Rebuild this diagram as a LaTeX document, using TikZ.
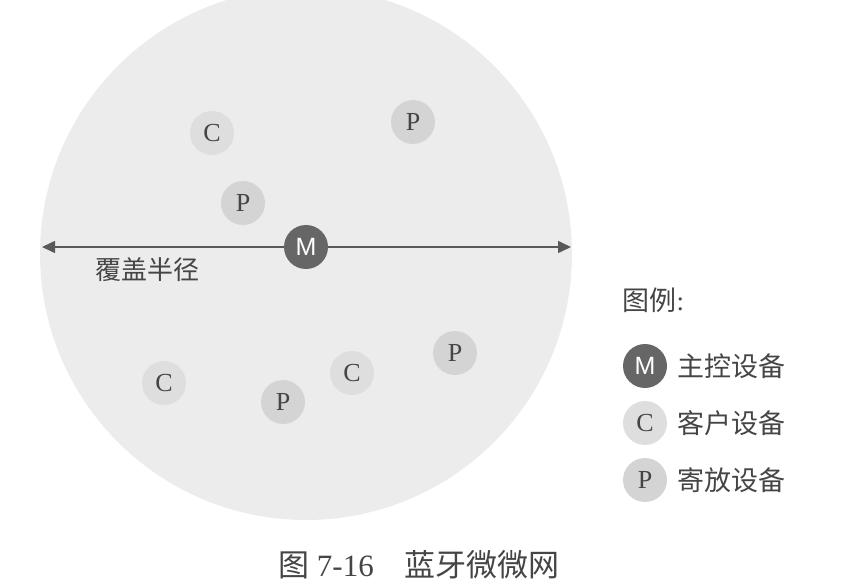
\documentclass[tikz,border=0pt]{standalone}
\usepackage{fontspec}
\setmainfont{Liberation Serif}
\setsansfont{Liberation Sans}
\newfontfamily\cjk{Noto Sans CJK SC}
\usetikzlibrary{arrows.meta}
\definecolor{discgray}{gray}{0.925}
\definecolor{inkgray}{gray}{0.27}
\begin{document}
\begin{tikzpicture}[x=1pt,y=-1pt,
    dev/.style={circle,minimum size=44pt,inner sep=0pt,text=inkgray,font=\fontsize{26}{26}\selectfont},
    client/.style={dev,fill=black!13},
    park/.style={dev,fill=black!17},
    master/.style={dev,fill=black!60,text=white,font=\sffamily\fontsize{25}{25}\selectfont},
    lbl/.style={anchor=west,text=inkgray,font=\cjk\fontsize{27}{27}\selectfont},
    radarrow/.style={{Triangle[length=13pt,width=12pt]}-{Triangle[length=13pt,width=12pt]},line width=1.6pt,draw=black!65}]
		\clip (0, 0) rectangle (847, 588);

		% piconet coverage
		\fill[discgray] (306, 254) circle (266pt);
		\coordinate (radL) at (42, 247);
		\coordinate (radR) at (571, 247);
		\draw[radarrow] (radL) -- (radR);
		\node[lbl, font=\cjk\fontsize{26}{26}\selectfont] (radius) at (92, 270) {覆盖半径};

		% devices
		\node[client] (c1) at (212, 133) {C};
		\node[park] (p1) at (413, 122) {P};
		\node[park] (p2) at (243, 203) {P};
		\node[master] (m) at (306, 247) {M};
		\node[client] (c2) at (164, 383) {C};
		\node[park] (p3) at (283, 402) {P};
		\node[client] (c3) at (352, 373) {C};
		\node[park] (p4) at (455, 353) {P};

		% legend
		\node[anchor=west, text=inkgray, font=\fontsize{27}{27}\selectfont] (legend) at (619, 300) {{\cjk 图例}:};
		\node[master] (km) at (645, 366) {M};
		\node[lbl] (kmtext) at (674, 366) {主控设备};
		\node[client] (kc) at (645, 423) {C};
		\node[lbl] (kctext) at (674, 423) {客户设备};
		\node[park] (kp) at (645, 480) {P};
		\node[lbl] (kptext) at (674, 480) {寄放设备};

		% caption
		\node[text=inkgray, font=\fontsize{31}{31}\selectfont] (caption) at (419, 565) {{\cjk 图} 7-16\quad{\cjk 蓝牙微微网}};
\end{tikzpicture}
\end{document}
